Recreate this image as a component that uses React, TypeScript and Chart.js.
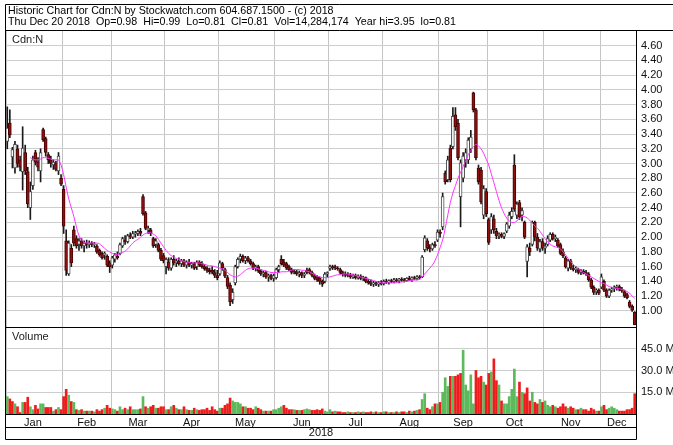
import React, { useEffect, useRef } from "react";
import { Chart, registerables } from "chart.js";

Chart.register(...registerables);

// ---------- DATA ----------
const monthNames = ["Jan", "Feb", "Mar", "Apr", "May", "Jun", "Jul", "Aug", "Sep", "Oct", "Nov", "Dec"];
const monthDayCounts = [22, 19, 21, 21, 22, 21, 21, 22, 19, 22, 22, 14];
const yearLabel = "2018";
const headerLines = [
  "Historic Chart for Cdn:N by Stockwatch.com 604.687.1500 - (c) 2018",
  "Thu Dec 20 2018  Op=0.98  Hi=0.99  Lo=0.81  Cl=0.81  Vol=14,284,174  Year hi=3.95  lo=0.81",
];
const symbolLabel = "Cdn:N";
const volumeLabel = "Volume";
const priceTicks = [1.0, 1.2, 1.4, 1.6, 1.8, 2.0, 2.2, 2.4, 2.6, 2.8, 3.0, 3.2, 3.4, 3.6, 3.8, 4.0, 4.2, 4.4, 4.6];
const volumeTicks = [15, 30, 45];

const opens = [
  // Jan
  3.30, 3.55, 3.09, 2.94, 3.20, 3.05, 2.89, 3.15, 2.89, 2.40, 2.70, 3.15, 3.02, 2.90, 3.46, 3.34, 3.12, 3.05, 2.98, 3.00, 2.90, 2.80,
  // Feb
  2.65, 1.95, 1.50, 1.85, 2.10, 1.98, 1.90, 1.95, 1.88, 1.92, 1.90, 1.92, 1.90, 1.88, 1.82, 1.78, 1.76, 1.74, 1.65,
  // Mar
  1.62, 1.70, 1.74, 1.78, 1.88, 1.96, 1.94, 2.02, 2.00, 2.04, 2.05, 2.08, 2.55, 2.33, 2.10, 2.10, 1.98, 1.90, 1.90, 1.82, 1.75,
  // Apr
  1.60, 1.66, 1.58, 1.70, 1.65, 1.68, 1.64, 1.68, 1.62, 1.66, 1.62, 1.64, 1.60, 1.66, 1.64, 1.60, 1.58, 1.55, 1.55, 1.52, 1.48,
  // May
  1.50, 1.64, 1.56, 1.45, 1.35, 1.15, 1.38, 1.60, 1.70, 1.74, 1.68, 1.72, 1.68, 1.64, 1.58, 1.60, 1.54, 1.50, 1.52, 1.46, 1.48, 1.44,
  // Jun
  1.45, 1.56, 1.70, 1.66, 1.64, 1.60, 1.56, 1.54, 1.53, 1.50, 1.52, 1.48, 1.55, 1.56, 1.52, 1.48, 1.46, 1.44, 1.40, 1.40, 1.50,
  // Jul
  1.58, 1.60, 1.60, 1.58, 1.56, 1.52, 1.50, 1.50, 1.48, 1.46, 1.48, 1.45, 1.47, 1.44, 1.45, 1.40, 1.38, 1.36, 1.38, 1.36, 1.38,
  // Aug
  1.37, 1.40, 1.39, 1.41, 1.40, 1.42, 1.41, 1.43, 1.42, 1.41, 1.44, 1.42, 1.45, 1.44, 1.46, 1.46, 1.83, 1.95, 1.86, 1.84, 1.90, 1.96,
  // Sep
  2.07, 2.14, 2.87, 2.78, 3.21, 3.23, 3.66, 3.55, 2.55, 2.80, 3.05, 3.05, 3.20, 3.96, 3.73, 2.94, 2.91, 2.30, 2.62,
  // Oct
  2.24, 2.10, 2.25, 2.08, 2.02, 2.04, 2.01, 2.08, 2.15, 2.28, 2.98, 2.30, 2.47, 2.30, 2.20, 1.67, 1.85, 1.90, 2.20, 2.00, 1.84, 1.94,
  // Nov
  1.85, 1.90, 1.96, 2.04, 1.98, 1.96, 1.90, 1.80, 1.72, 1.58, 1.68, 1.58, 1.56, 1.56, 1.52, 1.54, 1.52, 1.50, 1.42, 1.32, 1.26, 1.28,
  // Dec
  1.32, 1.40, 1.28, 1.20, 1.28, 1.30, 1.32, 1.33, 1.29, 1.26, 1.22, 1.12, 1.06, 0.98,
];
const highs = [
  3.77, 3.73, 3.22, 3.30, 3.25, 3.10, 3.50, 3.25, 2.95, 2.75, 3.10, 3.18, 3.08, 3.20, 3.48, 3.36, 3.15, 3.10, 3.05, 3.03, 3.15, 2.85,
  2.70, 2.10, 1.95, 1.90, 2.15, 2.02, 1.98, 1.98, 1.95, 1.96, 1.95, 1.94, 1.93, 1.90, 1.84, 1.80, 1.80, 1.76, 1.68,
  1.74, 1.78, 1.80, 1.92, 2.00, 2.02, 2.04, 2.06, 2.08, 2.08, 2.10, 2.12, 2.58, 2.35, 2.15, 2.12, 2.00, 1.98, 1.92, 1.85, 1.78,
  1.72, 1.72, 1.72, 1.75, 1.70, 1.72, 1.70, 1.70, 1.68, 1.70, 1.66, 1.66, 1.68, 1.68, 1.67, 1.63, 1.60, 1.58, 1.60, 1.56, 1.55,
  1.68, 1.66, 1.58, 1.48, 1.38, 1.30, 1.62, 1.72, 1.77, 1.76, 1.74, 1.74, 1.70, 1.66, 1.62, 1.62, 1.56, 1.54, 1.54, 1.50, 1.50, 1.50,
  1.58, 1.62, 1.75, 1.70, 1.66, 1.62, 1.58, 1.56, 1.55, 1.54, 1.53, 1.52, 1.58, 1.58, 1.54, 1.50, 1.48, 1.46, 1.42, 1.52, 1.53,
  1.62, 1.62, 1.62, 1.60, 1.58, 1.54, 1.53, 1.52, 1.51, 1.50, 1.50, 1.49, 1.49, 1.47, 1.46, 1.43, 1.42, 1.40, 1.40, 1.40, 1.41,
  1.42, 1.43, 1.42, 1.43, 1.44, 1.44, 1.44, 1.45, 1.44, 1.45, 1.47, 1.46, 1.47, 1.48, 1.48, 1.75, 2.02, 1.98, 1.90, 1.92, 1.94, 2.10,
  2.10, 2.60, 2.90, 3.10, 3.25, 3.76, 3.76, 3.60, 3.05, 3.15, 3.20, 3.35, 3.45, 3.97, 3.75, 2.98, 2.95, 2.70, 2.66,
  2.26, 2.32, 2.30, 2.12, 2.06, 2.06, 2.06, 2.20, 2.34, 2.40, 3.12, 2.48, 2.50, 2.40, 2.22, 1.90, 1.92, 2.22, 2.22, 2.05, 1.97, 1.98,
  1.92, 2.02, 2.06, 2.06, 2.03, 1.98, 1.92, 1.84, 1.74, 1.70, 1.70, 1.62, 1.60, 1.58, 1.56, 1.56, 1.55, 1.52, 1.44, 1.34, 1.30, 1.30,
  1.50, 1.42, 1.30, 1.30, 1.32, 1.34, 1.35, 1.35, 1.32, 1.28, 1.24, 1.14, 1.08, 0.99,
];
const lows = [
  3.20, 3.35, 2.94, 2.87, 2.95, 2.90, 2.64, 2.85, 2.40, 2.24, 2.65, 2.98, 2.90, 2.75, 3.30, 3.10, 3.00, 2.95, 2.92, 2.90, 2.85, 2.70,
  2.05, 1.48, 1.48, 1.60, 1.88, 1.85, 1.82, 1.85, 1.80, 1.85, 1.86, 1.87, 1.86, 1.78, 1.74, 1.70, 1.70, 1.60, 1.52,
  1.58, 1.66, 1.70, 1.76, 1.86, 1.90, 1.92, 1.98, 1.98, 2.00, 2.02, 2.02, 2.30, 2.10, 2.05, 2.02, 1.86, 1.86, 1.80, 1.68, 1.65,
  1.50, 1.55, 1.55, 1.62, 1.60, 1.62, 1.60, 1.60, 1.58, 1.60, 1.58, 1.56, 1.56, 1.60, 1.58, 1.55, 1.52, 1.50, 1.50, 1.45, 1.42,
  1.48, 1.55, 1.45, 1.30, 1.07, 1.10, 1.35, 1.58, 1.65, 1.66, 1.64, 1.66, 1.62, 1.56, 1.54, 1.52, 1.48, 1.46, 1.44, 1.40, 1.42, 1.40,
  1.43, 1.52, 1.62, 1.60, 1.56, 1.54, 1.50, 1.50, 1.48, 1.46, 1.45, 1.45, 1.50, 1.50, 1.46, 1.42, 1.40, 1.36, 1.33, 1.38, 1.46,
  1.55, 1.56, 1.56, 1.55, 1.50, 1.47, 1.46, 1.46, 1.44, 1.44, 1.43, 1.43, 1.42, 1.41, 1.38, 1.36, 1.34, 1.33, 1.34, 1.33, 1.35,
  1.35, 1.37, 1.36, 1.38, 1.38, 1.39, 1.38, 1.40, 1.39, 1.40, 1.41, 1.40, 1.42, 1.42, 1.43, 1.45, 1.80, 1.82, 1.80, 1.82, 1.86, 1.94,
  2.00, 2.10, 2.72, 2.75, 2.75, 3.20, 3.45, 3.05, 2.14, 2.75, 2.95, 3.00, 3.15, 3.70, 3.05, 2.72, 2.45, 2.25, 2.28,
  1.90, 2.05, 2.05, 1.98, 1.98, 1.99, 1.98, 2.06, 2.12, 2.25, 2.35, 2.25, 2.24, 2.22, 1.98, 1.46, 1.75, 1.88, 1.95, 1.82, 1.80, 1.82,
  1.78, 1.88, 1.94, 1.96, 1.94, 1.86, 1.76, 1.72, 1.58, 1.54, 1.56, 1.54, 1.52, 1.50, 1.49, 1.50, 1.48, 1.40, 1.30, 1.22, 1.22, 1.22,
  1.30, 1.26, 1.18, 1.18, 1.25, 1.26, 1.28, 1.27, 1.25, 1.18, 1.16, 1.04, 0.99, 0.81,
];
const closes = [
  3.48, 3.39, 3.19, 3.26, 3.00, 2.95, 3.21, 2.90, 2.45, 2.62, 3.05, 3.02, 2.95, 3.15, 3.32, 3.15, 3.05, 3.00, 3.02, 2.92, 3.10, 2.72,
  2.15, 1.55, 1.92, 1.65, 1.92, 1.88, 1.95, 1.88, 1.92, 1.90, 1.92, 1.90, 1.91, 1.80, 1.76, 1.72, 1.78, 1.62, 1.60,
  1.72, 1.76, 1.72, 1.90, 1.98, 1.94, 2.02, 2.00, 2.05, 2.06, 2.08, 2.05, 2.32, 2.12, 2.12, 2.05, 1.88, 1.95, 1.82, 1.70, 1.68,
  1.70, 1.58, 1.70, 1.65, 1.68, 1.64, 1.68, 1.62, 1.66, 1.62, 1.64, 1.58, 1.66, 1.62, 1.60, 1.57, 1.55, 1.53, 1.52, 1.48, 1.45,
  1.65, 1.58, 1.47, 1.33, 1.12, 1.25, 1.60, 1.70, 1.74, 1.68, 1.72, 1.68, 1.64, 1.58, 1.60, 1.54, 1.50, 1.52, 1.46, 1.48, 1.44, 1.48,
  1.56, 1.60, 1.64, 1.62, 1.58, 1.56, 1.52, 1.53, 1.50, 1.52, 1.48, 1.50, 1.52, 1.52, 1.48, 1.44, 1.42, 1.40, 1.36, 1.50, 1.52,
  1.60, 1.58, 1.59, 1.57, 1.52, 1.50, 1.48, 1.49, 1.46, 1.48, 1.45, 1.47, 1.44, 1.45, 1.40, 1.38, 1.36, 1.38, 1.36, 1.38, 1.37,
  1.40, 1.39, 1.41, 1.40, 1.42, 1.41, 1.43, 1.42, 1.41, 1.44, 1.42, 1.45, 1.44, 1.46, 1.45, 1.73, 1.99, 1.85, 1.84, 1.90, 1.88, 2.07,
  2.05, 2.55, 2.75, 3.05, 2.78, 3.64, 3.50, 3.08, 3.01, 3.10, 3.15, 3.32, 3.36, 3.73, 3.08, 2.75, 2.48, 2.66, 2.32,
  1.93, 2.28, 2.10, 2.02, 2.04, 2.01, 2.05, 2.18, 2.30, 2.35, 2.38, 2.45, 2.27, 2.36, 2.00, 1.87, 1.80, 2.20, 2.00, 1.85, 1.94, 1.85,
  1.88, 1.98, 2.04, 1.98, 2.00, 1.88, 1.78, 1.75, 1.60, 1.68, 1.58, 1.56, 1.58, 1.52, 1.54, 1.51, 1.50, 1.42, 1.32, 1.25, 1.28, 1.24,
  1.46, 1.28, 1.20, 1.28, 1.30, 1.32, 1.33, 1.29, 1.27, 1.20, 1.18, 1.06, 1.01, 0.81,
];
// volume in millions of shares
const volumes = [
  12, 10.4, 8.6, 7, 5, 1, 8, 8, 11.6, 5, 3, 6, 3.5, 7, 7, 4.5, 4.5, 4.5, 2, 3, 4.5, 3,
  12, 17, 13, 8.6, 8, 3, 2.5, 3, 2, 2, 2, 2, 1.5, 3, 2, 3, 4, 6, 4,
  3.5, 3, 2, 5, 3, 4, 3, 5, 3, 3, 3, 3.5, 12, 5, 4, 5, 6, 4, 4, 5, 5,
  3, 3, 5, 6, 4, 3, 3, 5, 3, 2.5, 2.5, 4, 3, 2.5, 3, 3, 4, 2.5, 5, 3, 2,
  4, 4, 6, 7, 11, 9, 8, 8, 7, 5, 5, 4, 4, 3, 5, 4, 3, 2, 2, 2, 2, 3,
  3, 4, 5, 6, 4, 3, 3, 3, 2.5, 2.5, 2.5, 3, 3.5, 3, 2.5, 2.5, 3, 2.5, 3.5, 2, 1.5,
  3, 1.5, 2, 1.5, 1.5, 1, 1, 1.5, 1, 1, 1, 1.5, 1, 1.5, 1, 1, 1.5, 1, 1.5, 1, 1,
  1.5, 1.5, 1, 1, 1, 1.5, 1, 1.5, 1.5, 1, 2, 1.5, 2, 2.5, 3, 10, 14, 4, 3, 5, 7, 7,
  8, 15, 25, 19, 26, 26, 26, 27, 28, 44, 20, 16, 27, 7, 30, 25, 26, 22, 20,
  28, 29, 38, 23, 20, 9, 7, 7, 12, 17, 31, 12, 22, 15, 14, 18, 9, 15, 8, 7, 10, 8,
  9, 6, 5, 6, 5, 4, 5, 7, 5, 4, 5, 4, 3, 3, 4, 3, 3, 2, 4, 3, 2, 2,
  5, 6, 3, 4, 5, 4, 3, 2, 2, 2, 3, 3, 4, 14,
];
// moving average line
const movingAvg: (number | null)[] = [
  null, null, null, null, null, null, null, null, null, 3.08, 3.06, 3.05, 3.05, 3.06, 3.08, 3.08, 3.07, 3.06, 3.05, 3.05, 3.05, 2.98,
  2.85, 2.68, 2.52, 2.40, 2.28, 2.14, 2.02, 1.96, 1.93, 1.92, 1.92, 1.92, 1.92, 1.92, 1.91, 1.88, 1.85, 1.82, 1.80,
  1.78, 1.77, 1.76, 1.77, 1.79, 1.81, 1.84, 1.88, 1.92, 1.95, 1.97, 2.00, 2.03, 2.05, 2.06, 2.06, 2.04, 2.02, 1.97, 1.92, 1.87,
  1.82, 1.78, 1.75, 1.73, 1.71, 1.70, 1.68, 1.67, 1.66, 1.66, 1.65, 1.65, 1.65, 1.65, 1.64, 1.63, 1.62, 1.61, 1.61, 1.60, 1.59,
  1.58, 1.57, 1.55, 1.52, 1.49, 1.47, 1.46, 1.47, 1.49, 1.52, 1.55, 1.57, 1.58, 1.58, 1.58, 1.57, 1.56, 1.55, 1.54, 1.53, 1.52, 1.52,
  1.52, 1.52, 1.53, 1.53, 1.53, 1.54, 1.55, 1.56, 1.56, 1.56, 1.55, 1.55, 1.54, 1.53, 1.51, 1.49, 1.47, 1.46, 1.45, 1.45, 1.45,
  1.46, 1.47, 1.48, 1.49, 1.49, 1.50, 1.50, 1.50, 1.49, 1.49, 1.48, 1.47, 1.46, 1.45, 1.44, 1.43, 1.42, 1.41, 1.40, 1.39, 1.38,
  1.38, 1.38, 1.38, 1.38, 1.38, 1.38, 1.39, 1.39, 1.40, 1.40, 1.41, 1.41, 1.42, 1.42, 1.43, 1.46, 1.50, 1.54, 1.58, 1.62, 1.68, 1.76,
  1.86, 1.96, 2.12, 2.30, 2.47, 2.60, 2.70, 2.80, 2.88, 2.96, 3.04, 3.12, 3.18, 3.23, 3.26, 3.24, 3.20, 3.14, 3.06,
  2.98, 2.86, 2.74, 2.62, 2.50, 2.40, 2.32, 2.26, 2.22, 2.20, 2.20, 2.22, 2.26, 2.28, 2.28, 2.26, 2.23, 2.19, 2.15, 2.12, 2.08, 2.03,
  1.98, 1.94, 1.90, 1.88, 1.87, 1.86, 1.84, 1.80, 1.76, 1.71, 1.67, 1.63, 1.60, 1.57, 1.54, 1.52, 1.50, 1.48, 1.46, 1.44, 1.42, 1.40,
  1.38, 1.37, 1.35, 1.33, 1.32, 1.31, 1.30, 1.30, 1.29, 1.28, 1.26, 1.24, 1.20, 1.17,
];

// ---------- STYLE ----------
const FONT = "'Liberation Sans', Arial, Helvetica, sans-serif";
const UP_BODY = "#ffffff";
const UP_EDGE = "#4a4a4a";
const DOWN_BODY = "#8e1111";
const DOWN_EDGE = "#4a0000";
const VOL_UP = "#5cba5c";
const VOL_DOWN = "#ee1c1c";
const GRID = "#cdcdcd";

// ---------- derived tables for the library ----------
const labels: string[] = [];
const monthStart = new Set<number>();
const monthMid = new Map<number, string>();
{
  let k = 0;
  monthDayCounts.forEach((n, m) => {
    monthStart.add(k);
    monthMid.set(k + Math.floor(n / 2) - (n % 2 === 0 ? 1 : 0), monthNames[m]);
    for (let j = 0; j < n; j++) labels.push(`${monthNames[m]} ${j + 1}`);
    k += n;
  });
}

const framePlugin = {
  id: "stockFrame",
  afterDraw(chart: any) {
    const { ctx, chartArea, scales } = chart;
    const W = chart.width;
    const left = 5.5;
    const top = 4.5;
    const right = Math.round(chartArea.right) + 0.5;
    const bottom = 439.5;
    const divY = Math.round(scales.yVol.top) + 0.5;
    const headY = Math.round(chartArea.top) - 0.5;
    const bandY = 427.5;
    ctx.save();
    ctx.strokeStyle = "#000";
    ctx.lineWidth = 1;
    ctx.beginPath();
    ctx.moveTo(left, top); ctx.lineTo(W, top);
    ctx.moveTo(left, top); ctx.lineTo(left, bottom);
    ctx.moveTo(left, bottom); ctx.lineTo(right, bottom);
    ctx.moveTo(right, headY); ctx.lineTo(right, bottom);
    ctx.moveTo(left, headY); ctx.lineTo(W, headY);
    ctx.moveTo(left, divY); ctx.lineTo(right, divY);
    ctx.moveTo(left, bandY); ctx.lineTo(right, bandY);
    ctx.stroke();
    ctx.fillStyle = "#000";
    ctx.font = `10.7px ${FONT}`;
    ctx.textBaseline = "middle";
    ctx.textAlign = "left";
    ctx.fillText(headerLines[0], 8, 11);
    ctx.fillText(headerLines[1], 8, 22);
    ctx.fillStyle = "#222";
    ctx.font = `11px ${FONT}`;
    ctx.fillText(symbolLabel, 12, 40);
    ctx.fillText(volumeLabel, 12, 337);
    ctx.restore();
  },
};

export default function App() {
  const ref = useRef<HTMLCanvasElement | null>(null);
  useEffect(() => {
    const canvas = ref.current;
    if (!canvas) return;
    const bodyData = opens.map((o, i) => [o, closes[i] === o ? o + 0.004 : closes[i]]);
    const wickData = lows.map((l, i) => [l, highs[i]]);
    const isUp = opens.map((o, i) => closes[i] >= o);
    const volUp = closes.map((c, i) => (i === 0 ? c >= opens[0] : c >= closes[i - 1]));
    const chart = new Chart(canvas, {
      type: "bar",
      data: {
        labels,
        datasets: [
          {
            type: "line",
            label: "MA",
            data: movingAvg as any,
            yAxisID: "y",
            borderColor: "#ff33ff",
            borderWidth: 1,
            pointRadius: 0,
            tension: 0.3,
            spanGaps: false,
            order: 0,
          } as any,
          {
            label: "Body",
            data: bodyData as any,
            yAxisID: "y",
            backgroundColor: isUp.map((u) => (u ? UP_BODY : DOWN_BODY)),
            borderColor: isUp.map((u) => (u ? UP_EDGE : DOWN_EDGE)),
            borderWidth: 1,
            borderSkipped: false,
            barThickness: 3,
            grouped: false,
            order: 1,
          } as any,
          {
            label: "Wick",
            data: wickData as any,
            yAxisID: "y",
            backgroundColor: "#1a1a1a",
            borderWidth: 0,
            barThickness: 1,
            grouped: false,
            order: 2,
          } as any,
          {
            label: "Volume",
            data: volumes,
            yAxisID: "yVol",
            backgroundColor: volUp.map((u) => (u ? VOL_UP : VOL_DOWN)),
            borderWidth: 0,
            barThickness: 2,
            grouped: false,
            order: 3,
          } as any,
        ],
      },
      options: {
        responsive: false,
        animation: false,
        devicePixelRatio: 1,
        layout: { padding: { top: 31, left: 6, right: 0, bottom: 5 } },
        plugins: { legend: { display: false }, tooltip: { enabled: false } },
        scales: {
          x: {
            type: "category",
            offset: true,
            grid: {
              offset: true,
              drawTicks: false,
              color: (c: any) => (monthStart.has(c.index) ? "#c4c4c4" : "rgba(0,0,0,0)"),
            },
            border: { display: true, color: "#000", width: 1 },
            ticks: {
              autoSkip: false,
              maxRotation: 0,
              minRotation: 0,
              padding: 2,
              color: "#111",
              font: { family: FONT, size: 11 },
              callback: (_v: any, i: number) => monthMid.get(i) ?? "",
            },
            title: {
              display: true,
              text: yearLabel,
              color: "#111",
              font: { family: FONT, size: 11 },
              padding: { top: 1, bottom: 0 },
            },
            afterFit: (s: any) => {
              s.height = 26;
            },
          },
          y: {
            type: "linear",
            position: "right",
            stack: "main",
            stackWeight: 296,
            min: 0.78,
            max: 4.8,
            afterBuildTicks: (s: any) => {
              s.ticks = priceTicks.map((v) => ({ value: v }));
            },
            grid: { color: GRID, drawTicks: false },
            border: { display: true, color: "#000" },
            ticks: {
              autoSkip: false,
              padding: 5,
              color: "#111",
              font: { family: FONT, size: 11 },
              callback: (v: any) => Number(v).toFixed(2),
            },
            afterFit: (s: any) => {
              s.width = 37;
            },
          },
          yVol: {
            type: "linear",
            position: "right",
            stack: "main",
            stackWeight: 87,
            min: 0,
            max: 60,
            afterBuildTicks: (s: any) => {
              s.ticks = volumeTicks.map((v) => ({ value: v }));
            },
            grid: { color: GRID, drawTicks: false },
            border: { display: true, color: "#000" },
            ticks: {
              autoSkip: false,
              padding: 5,
              color: "#111",
              font: { family: FONT, size: 11 },
              callback: (v: any) => `${Number(v).toFixed(1)} M`,
            },
            afterFit: (s: any) => {
              s.width = 37;
            },
          },
        } as any,
      },
      plugins: [framePlugin],
    });
    return () => chart.destroy();
  }, []);
  return (
    <div style={{ position: "absolute", left: 0, top: 0, width: 673, height: 445, background: "#fff", overflow: "hidden" }}>
      <canvas ref={ref} width={673} height={445} style={{ display: "block", width: 673, height: 445 }} />
    </div>
  );
}
